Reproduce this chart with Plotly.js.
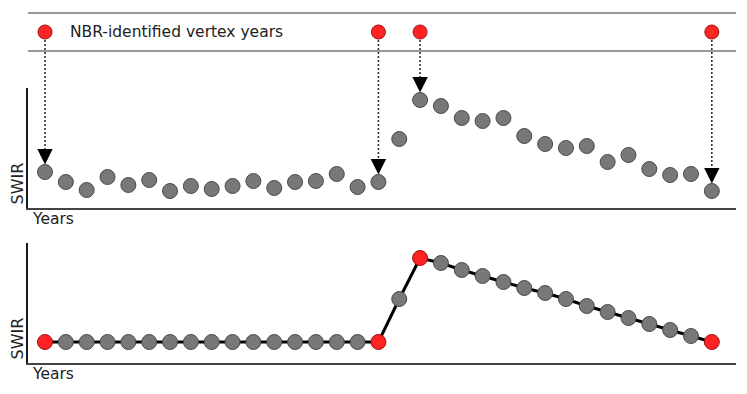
<!DOCTYPE html>
<html>
<head>
<meta charset="utf-8">
<script src="https://cdn.plot.ly/plotly-3.0.1.min.js"></script>
<style>html,body{margin:0;padding:0;background:#fff;}#chart{width:747px;height:394px;}</style>
</head>
<body>
<div id="chart"></div>
<script>
// ---- data ----
var years = [0,1,2,3,4,5,6,7,8,9,10,11,12,13,14,15,16,17,18,19,20,21,22,23,24,25,26,27,28,29,30,31,32];
var swirObserved = [36,26,18,31,23,28,17,22,19,22,27,20,26,27,34,21,26,69,108,102,90,87,90,72,64,60,62,46,53,39,33,34,17];
var swirFitted = [21,21,21,21,21,21,21,21,21,21,21,21,21,21,21,21,21,64,105,100,93,87,81,75,70,64,57,51,45,39,33,27,21];
var vertexYears = [0,16,18,32];
var headerText = 'NBR-identified vertex years';
var axisXLabel = 'Years';
var axisYLabel = 'SWIR';

// ---- geometry ----
var W = 747, H = 394;
var xDom = [28/W, 736/W];
var xRange = [-0.816, 33.16];
var yTopDom = [(H-208)/H, (H-88)/H];
var yBotDom = [(H-363)/H, (H-243)/H];
var yHdrDom = [(H-50)/H, (H-14)/H];
var yRange = [0, 120];

var GRAY = '#787878', GRAY_LINE = '#4a4a4a', RED = '#ff2424', RED_LINE = '#9a1010';
var FONT = 'DejaVu Sans, Verdana, sans-serif';

function paperTop(v) { return yTopDom[0] + (v - yRange[0]) / (yRange[1] - yRange[0]) * (yTopDom[1] - yTopDom[0]); }
var hdrMid = 0.5;
var hdrPaper = yHdrDom[0] + hdrMid * (yHdrDom[1] - yHdrDom[0]);

var traces = [
  { x: years, y: swirObserved, xaxis: 'x', yaxis: 'y', mode: 'markers', type: 'scatter',
    marker: { size: 15, color: GRAY, line: { color: GRAY_LINE, width: 1 } }, hoverinfo: 'skip' },
  { x: years, y: swirFitted, xaxis: 'x2', yaxis: 'y2', mode: 'lines+markers', type: 'scatter',
    line: { color: '#000', width: 3 },
    marker: { size: 15,
      color: years.map(function (yr) { return vertexYears.indexOf(yr) >= 0 ? RED : GRAY; }),
      line: { color: years.map(function (yr) { return vertexYears.indexOf(yr) >= 0 ? RED_LINE : GRAY_LINE; }), width: 1 } },
    hoverinfo: 'skip' },
  { x: vertexYears, y: vertexYears.map(function () { return hdrMid; }), xaxis: 'x3', yaxis: 'y3',
    mode: 'markers', type: 'scatter',
    marker: { size: 14, color: RED, line: { color: RED_LINE, width: 1 } }, hoverinfo: 'skip' }
];

var headLen = 15;
var shapes = [], annotations = [];
vertexYears.forEach(function (yr) {
  var v = swirObserved[years.indexOf(yr)];
  shapes.push({ type: 'line', layer: 'below', xref: 'x', yref: 'paper',
    x0: yr, x1: yr, y0: hdrPaper, y1: paperTop(v) + (7.5 + headLen - 2) / H,
    line: { color: '#333', width: 1.6, dash: '2px,2px' } });
  annotations.push({ xref: 'x', yref: 'y', x: yr, y: v, text: '', showarrow: true,
    ax: 0, ay: -(7.5 + headLen), standoff: 7.5, arrowhead: 2, arrowsize: 2.2, arrowwidth: 1.4,
    arrowcolor: '#000' });
});

annotations.push({ xref: 'paper', yref: 'y3', x: 68 / W, y: hdrMid, xanchor: 'left', yanchor: 'middle',
  text: headerText, showarrow: false, font: { family: FONT, size: 15.5, color: '#222' } });

[['x', 'y'], ['x2', 'y2']].forEach(function (p) {
  annotations.push({ xref: 'paper', yref: p[1] + ' domain', x: 16.5 / W, y: 0.2, xanchor: 'center', yanchor: 'middle',
    textangle: -90, text: axisYLabel, showarrow: false, font: { family: FONT, size: 16, color: '#222' } });
  annotations.push({ xref: p[0] + ' domain', yref: p[1] + ' domain', x: 0, y: 0, xanchor: 'left', yanchor: 'top',
    xshift: 2, yshift: 0, text: axisXLabel, showarrow: false, font: { family: FONT, size: 15.5, color: '#222' } });
});

function xa(anchor, extra) {
  var o = { domain: xDom, range: xRange, anchor: anchor, showgrid: false, zeroline: false,
    showticklabels: false, ticks: '', showline: true, linecolor: '#444', linewidth: 2, fixedrange: true };
  for (var k in extra) o[k] = extra[k];
  return o;
}
function ya(dom, anchor, extra) {
  var o = { domain: dom, range: yRange, anchor: anchor, showgrid: false, zeroline: false,
    showticklabels: false, ticks: '', showline: true, linecolor: '#1a1a1a', linewidth: 2, fixedrange: true };
  for (var k in extra) o[k] = extra[k];
  return o;
}

var layout = {
  width: W, height: H, margin: { l: 0, r: 0, t: 0, b: 0 },
  paper_bgcolor: '#fff', plot_bgcolor: 'rgba(0,0,0,0)', showlegend: false,
  font: { family: FONT },
  xaxis: xa('y'),
  yaxis: ya(yTopDom, 'x'),
  xaxis2: xa('y2'),
  yaxis2: ya(yBotDom, 'x2'),
  xaxis3: xa('y3', { linecolor: '#9a9a9a', linewidth: 2, mirror: true }),
  yaxis3: ya(yHdrDom, 'x3', { range: [0, 1], showline: false }),
  shapes: shapes,
  annotations: annotations
};

Plotly.newPlot('chart', traces, layout, { staticPlot: true, displayModeBar: false });
</script>
</body>
</html>
